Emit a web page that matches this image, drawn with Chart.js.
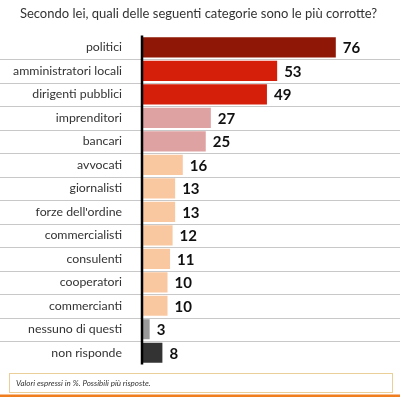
<!DOCTYPE html>
<html>
<head>
<meta charset="utf-8">
<script src="https://cdn.jsdelivr.net/npm/chart.js@4/dist/chart.umd.min.js"></script>
<style>
  html, body { margin: 0; padding: 0; background: #fff; }
  #wrap { width: 400px; height: 397px; position: relative; }
</style>
</head>
<body>
<div id="wrap"><canvas id="corruptionChart"></canvas></div>
<script>
const title = 'Secondo lei, quali delle seguenti categorie sono le più corrotte?';
const categories = ['politici', 'amministratori locali', 'dirigenti pubblici', 'imprenditori', 'bancari',
    'avvocati', 'giornalisti', "forze dell'ordine", 'commercialisti', 'consulenti', 'cooperatori',
    'commercianti', 'nessuno di questi', 'non risponde'];
const percentages = [76, 53, 49, 27, 25, 16, 13, 13, 12, 11, 10, 10, 3, 8];
const barColors = ['#8e1705', '#d61f0b', '#d61f0b', '#dfa2a2', '#dfa2a2', '#fac8a0', '#fac8a0', '#fac8a0',
    '#fac8a0', '#fac8a0', '#fac8a0', '#fac8a0', '#9a9a9a', '#333333'];
const footnote = 'Valori espressi in %. Possibili più risposte.';

const FONT = 'Lato, "Open Sans", sans-serif';

// row separators across the full width, the thick axis, value labels, footnote box
const decorations = {
    id: 'decorations',
    beforeDatasetsDraw(chart) {
        const ctx = chart.ctx;
        const y = chart.scales.y;
        ctx.save();
        ctx.strokeStyle = '#c8c8c8';
        ctx.lineWidth = 1;
        for (let i = 0; i < categories.length - 1; i++) {
            const yy = Math.round((y.getPixelForValue(i) + y.getPixelForValue(i + 1)) / 2) + 0.5;
            ctx.beginPath();
            ctx.moveTo(0, yy);
            ctx.lineTo(chart.width, yy);
            ctx.stroke();
        }
        ctx.restore();
    },
    afterDatasetsDraw(chart) {
        const ctx = chart.ctx;
        const area = chart.chartArea;
        const meta = chart.getDatasetMeta(0);
        ctx.save();
        ctx.strokeStyle = '#000';
        ctx.lineWidth = 2.5;
        ctx.beginPath();
        ctx.moveTo(area.left, area.top);
        ctx.lineTo(area.left, area.bottom);
        ctx.stroke();

        ctx.fillStyle = '#111';
        ctx.font = 'bold 15px ' + FONT;
        ctx.textBaseline = 'middle';
        ctx.textAlign = 'left';
        meta.data.forEach((bar, i) => {
            ctx.fillText(String(percentages[i]), bar.x + 7, bar.y + 1);
        });

        // footnote box
        ctx.strokeStyle = '#ebcf98';
        ctx.lineWidth = 1;
        ctx.strokeRect(9.5, 373.5, 383, 19);
        ctx.fillStyle = '#f07d1e';
        ctx.fillRect(0, 394.5, chart.width, 2.5);
        ctx.fillStyle = '#333';
        ctx.font = 'italic 8px ' + FONT;
        ctx.fillText(footnote, 16, 383.5);
        ctx.restore();
    }
};

new Chart(document.getElementById('corruptionChart'), {
    type: 'bar',
    data: {
        labels: categories,
        datasets: [{
            data: percentages,
            backgroundColor: barColors,
            borderWidth: 0,
            barPercentage: 0.86,
            categoryPercentage: 1
        }]
    },
    options: {
        indexAxis: 'y',
        responsive: true,
        maintainAspectRatio: false,
        animation: false,
        layout: { padding: { top: 0, right: 3, bottom: 32.5, left: 0 } },
        plugins: {
            legend: { display: false },
            tooltip: { enabled: false },
            title: {
                display: true,
                text: title,
                color: '#333',
                font: { family: FONT, size: 13, weight: 'normal' },
                padding: { top: 6, bottom: 14 }
            }
        },
        scales: {
            x: { display: false, min: 0, max: 100 },
            y: {
                grid: { display: false },
                border: { display: false },
                afterFit: scale => { scale.width = 142; },
                ticks: {
                    color: '#333',
                    padding: 12,
                    font: { family: FONT, size: 12.3 }
                }
            }
        }
    },
    plugins: [decorations]
});
</script>
</body>
</html>
